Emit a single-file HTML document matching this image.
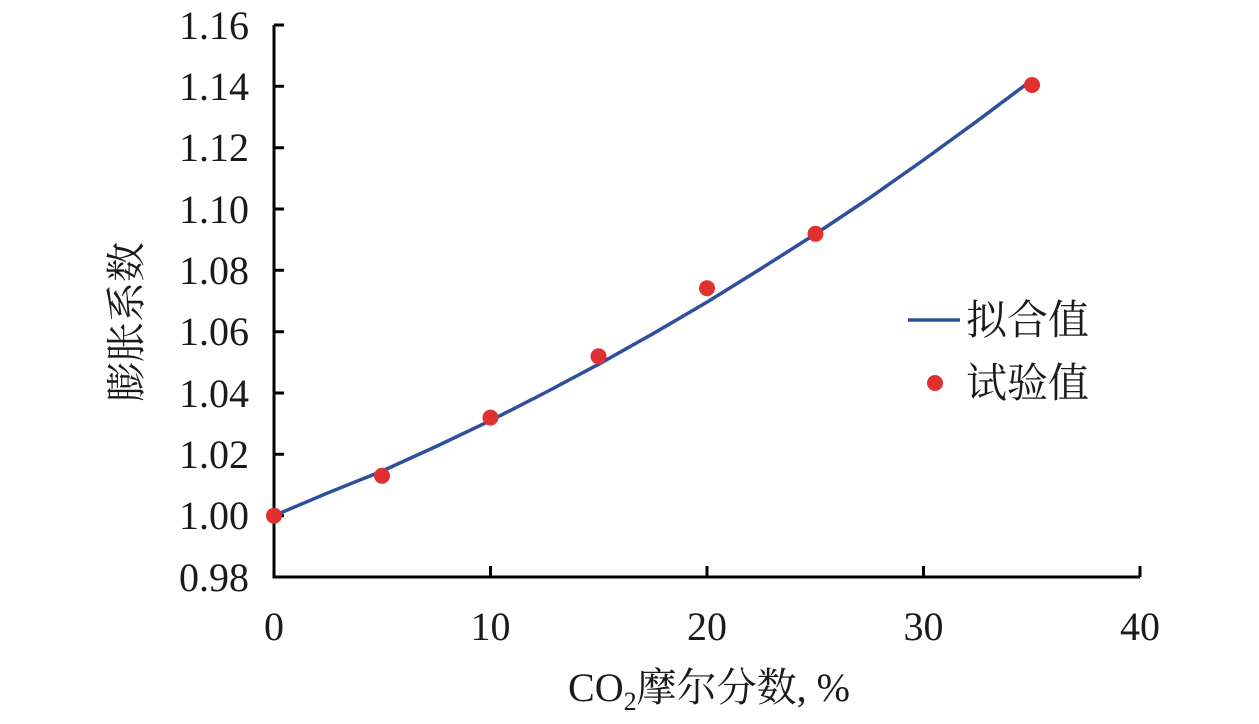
<!DOCTYPE html>
<html><head><meta charset="utf-8"><style>
html,body{margin:0;padding:0;background:#fff;}
svg text{font-family:"Liberation Serif","Noto Serif CJK SC","Noto Sans CJK SC",serif;fill:#1a1a1a;}
</style></head><body>
<svg width="1259" height="719" viewBox="0 0 1259 719" xmlns="http://www.w3.org/2000/svg">
<g stroke="#000" stroke-width="3" fill="none">
<path d="M274,25 V577 H1140"/>
<path d="M274,25 h10 M274,86.3 h10 M274,147.7 h10 M274,209 h10 M274,270.3 h10 M274,331.7 h10 M274,393 h10 M274,454.3 h10 M274,515.7 h10"/>
<path d="M490.5,577 v-11 M707,577 v-11 M923.5,577 v-11 M1140,577 v-11"/>
</g>
<g font-size="40" text-anchor="end">
<text x="249" y="39">1.16</text><text x="249" y="100">1.14</text><text x="249" y="161">1.12</text>
<text x="249" y="223">1.10</text><text x="249" y="284">1.08</text><text x="249" y="345">1.06</text>
<text x="249" y="407">1.04</text><text x="249" y="468">1.02</text><text x="249" y="529">1.00</text>
<text x="249" y="591">0.98</text>
</g>
<g font-size="40" text-anchor="middle">
<text x="274" y="640">0</text><text x="490.5" y="640">10</text><text x="707" y="640">20</text>
<text x="923.5" y="640">30</text><text x="1140" y="640">40</text>
</g>
<polyline fill="none" stroke="#2d4f9e" stroke-width="3.5" points="274,515.7 328,492.8 382,471.1 436,446.5 490.5,420.6 544.5,393 598.5,364.3 652.8,333.8 707,302.1 761,268.6 815.5,234 869.5,198 923.5,160 977.5,120.8 1031.7,80.2"/>
<g fill="#e03030">
<circle cx="274" cy="515.7" r="8"/><circle cx="382" cy="475.8" r="8"/><circle cx="490.5" cy="417.6" r="8"/>
<circle cx="598.5" cy="356.3" r="8"/><circle cx="707" cy="288.2" r="8"/><circle cx="815.5" cy="233.8" r="8"/>
<circle cx="1032" cy="85" r="8"/>
<circle cx="935" cy="383" r="8"/>
</g>
<line x1="908" y1="320" x2="960" y2="320" stroke="#2d4f9e" stroke-width="3.5"/>
<text x="966" y="334" font-size="41">拟合值</text>
<text x="966" y="397" font-size="41">试验值</text>
<text transform="translate(140,322) rotate(-90)" font-size="40" text-anchor="middle">膨胀系数</text>
<text x="709" y="701" font-size="40" text-anchor="middle">CO<tspan font-size="26" dy="9">2</tspan><tspan dy="-9">摩尔分数, %</tspan></text>
</svg>
</body></html>
